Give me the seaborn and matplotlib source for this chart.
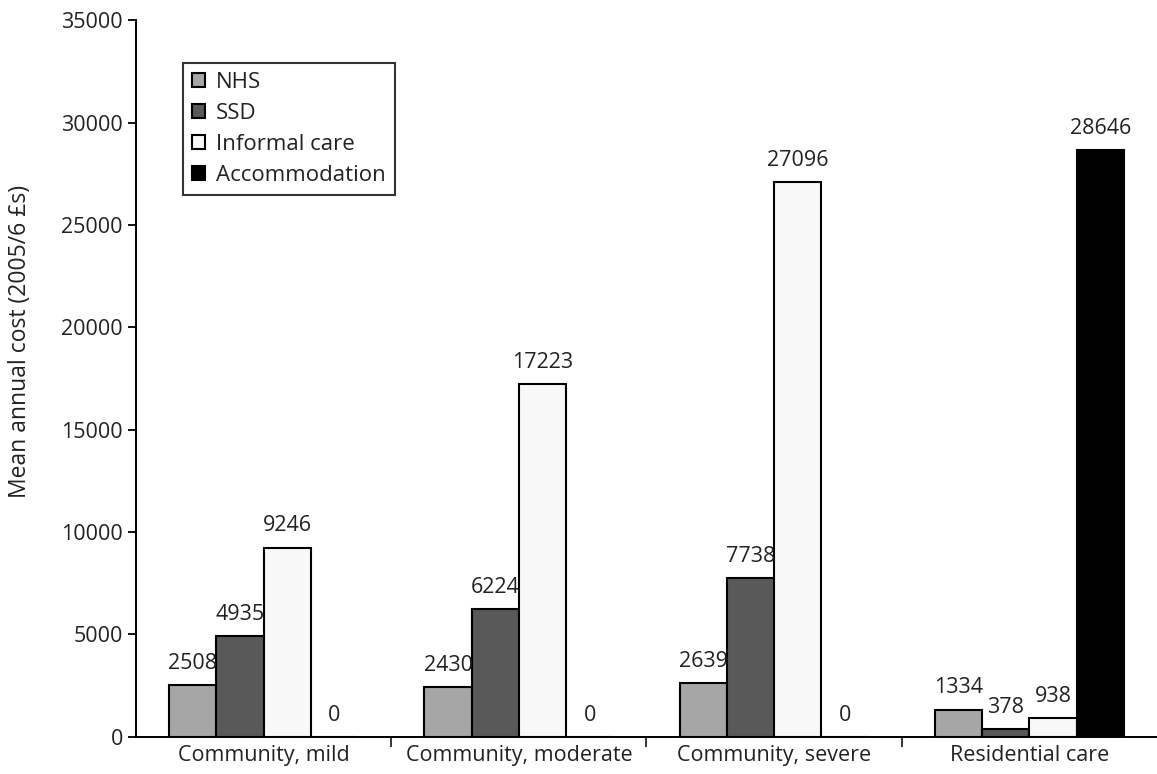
import matplotlib
matplotlib.use("Agg")
import matplotlib.pyplot as plt
import seaborn as sns
import pandas as pd

# chart data
categories = ["Community, mild", "Community, moderate", "Community, severe", "Residential care"]
series = ["NHS", "SSD", "Informal care", "Accommodation"]
nhs = [2508, 2430, 2639, 1334]
ssd = [4935, 6224, 7738, 378]
informal = [9246, 17223, 27096, 938]
accommodation = [0, 0, 0, 28646]
colors = ["#a6a6a6", "#595959", "#f8f8f8", "#000000"]

rows = []
for name, vals in zip(series, [nhs, ssd, informal, accommodation]):
    for cat, v in zip(categories, vals):
        rows.append({"group": cat, "kind": name, "cost": v})
df = pd.DataFrame(rows)

sns.set_style("white")
plt.rcParams["font.family"] = ["Open Sans", "DejaVu Sans"]
FS = 15.5

fig = plt.figure(figsize=(11.57, 7.74), dpi=100)
ax = fig.add_axes([0.1175, 0.048, 0.8825, 0.926])

sns.barplot(data=df, x="group", y="cost", hue="kind", order=categories,
            hue_order=series, palette=colors, width=0.74, saturation=1,
            edgecolor="black", linewidth=1.5, ax=ax)

for cont in ax.containers:
    ax.bar_label(cont, fmt="%d", padding=8, fontsize=FS, color="#222222")

ax.set_ylim(0, 35000)
ax.set_xlim(-0.5, 3.5)
ax.set_yticks(range(0, 35001, 5000))
ax.set_xlabel("")
ax.set_ylabel("Mean annual cost (2005/6 £s)", fontsize=16.5, color="#222222")
ax.yaxis.set_label_coords(-0.102, 0.552)

ax.spines["top"].set_visible(False)
ax.spines["right"].set_visible(False)
for s in ["left", "bottom"]:
    ax.spines[s].set_linewidth(1.4)
    ax.spines[s].set_color("black")

ax.tick_params(axis="y", direction="out", length=6, width=1.3, labelsize=FS,
               left=True, colors="black", labelcolor="#222222")
ax.tick_params(axis="x", which="major", length=0, labelsize=FS, pad=6,
               labelcolor="#222222")
ax.set_xticks([0.5, 1.5, 2.5], minor=True)
ax.tick_params(axis="x", which="minor", direction="out", length=7, width=1.3,
               bottom=True)

leg = ax.legend(loc="upper left", bbox_to_anchor=(0.046, 0.94), fontsize=16,
                frameon=True, fancybox=False, handlelength=0.6, handleheight=0.6,
                handletextpad=0.5, labelspacing=0.45, borderpad=0.4,
                borderaxespad=0, edgecolor="black")
leg.get_frame().set_linewidth(1.5)
for t in leg.get_texts():
    t.set_color("#222222")

fig.savefig("out.png", dpi=100)
